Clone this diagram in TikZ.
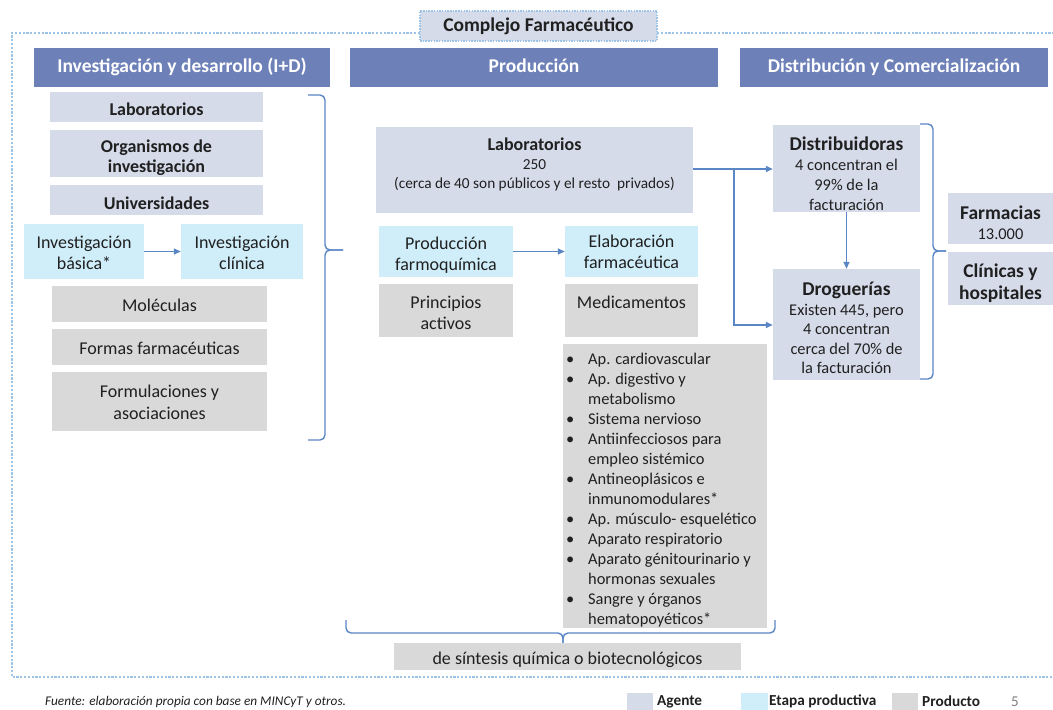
\documentclass[tikz,border=0pt]{standalone}
\usepackage{fontspec}
\setmainfont{Carlito}
\usetikzlibrary{arrows.meta}
\definecolor{agentc}{HTML}{D6DBEA}
\definecolor{headc}{HTML}{6D81B8}
\definecolor{stagec}{HTML}{D0EEFA}
\definecolor{prodc}{HTML}{D9D9D9}
\definecolor{linec}{HTML}{5A86C6}
\definecolor{dotc}{HTML}{9DC3E6}
\definecolor{txtc}{HTML}{202020}
\newcommand\fs[2]{\fontsize{#1}{#2}\selectfont}
\tikzset{
  box/.style={draw=none, inner sep=0pt},
  agent/.style={box, fill=agentc},
  stage/.style={box, fill=stagec},
  prod/.style={box, fill=prodc},
  txt/.style={inner sep=0pt, align=center, font=\fs{18}{21}, text=txtc},
  head/.style={fill=headc, text=white, font=\bfseries\fs{19.5}{22}, inner sep=0pt, text height=14pt, text depth=4pt},
  conn/.style={draw=linec, line width=1.4pt, -{Triangle[length=7pt,width=6pt]}},
  brc/.style={draw=linec, line width=1.4pt, rounded corners=5pt},
  dotline/.style={draw=dotc, line width=2.6pt, dash pattern=on 2.2pt off 1.6pt},
}
\begin{document}
\begin{tikzpicture}[x=1pt,y=-1pt]
\useasboundingbox (0,0) rectangle (1053,710);
% outer dotted frame
\draw[dotline] (420,33) -- (12,33) -- (12,677) -- (1053,677);
\draw[dotline] (657,33) -- (1053,33);
% title
\node[agent, draw=dotc, line width=1.3pt, dash pattern=on 1.5pt off 1.2pt, minimum width=237pt, minimum height=30pt, font=\bfseries\fs{19.5}{22}, text=txtc] (title) at (538.5,26) {Complejo Farmacéutico};
% headers
\node[head, minimum width=296pt, minimum height=39pt] (hid) at (182,67.5) {Investigación y desarrollo (I+D)};
\node[head, minimum width=368pt, minimum height=39pt] (hprod) at (534,67.5) {Producción};
\node[head, minimum width=308pt, minimum height=39pt] (hdist) at (894,67.5) {Distribución y Comercialización};
% I+D column
\node[agent, minimum width=213pt, minimum height=30pt] (lab1) at (156.5,107) {};
\node[txt, font=\bfseries\fs{18}{20}] (lab1t) at (156.5,109) {Laboratorios};
\node[agent, minimum width=213pt, minimum height=47pt] (org) at (156.5,153.5) {};
\node[txt, font=\bfseries\fs{18}{20}] (orgt) at (156.5,158) {Organismos de\\investigación};
\node[agent, minimum width=213pt, minimum height=30pt] (uni) at (156.5,200) {};
\node[txt, font=\bfseries\fs{18}{20}] (unit) at (156.5,203) {Universidades};
\node[stage, minimum width=120pt, minimum height=55pt] (ibas) at (84,251.5) {};
\node[txt] (ibast) at (84,252.5) {Investigación\\básica*};
\node[stage, minimum width=122pt, minimum height=55pt] (icli) at (242,251.5) {};
\node[txt] (iclit) at (242,252.5) {Investigación\\clínica};
\node[prod, minimum width=215pt, minimum height=36pt] (mol) at (159.5,304) {};
\node[txt] (molt) at (159.5,305) {Moléculas};
\node[prod, minimum width=215pt, minimum height=36pt] (formas) at (159.5,347) {};
\node[txt] (formast) at (159.5,348) {Formas farmacéuticas};
\node[prod, minimum width=215pt, minimum height=59pt] (formul) at (159.5,401.5) {};
\node[txt, font=\fs{18}{22}] (formult) at (159.5,402) {Formulaciones y\\asociaciones};
\draw[conn] (ibas.east) -- (icli.west);
\draw[brc] (308,95) -- (325,95) -- (325,250) -- (343,250);
\draw[brc] (308,440) -- (325,440) -- (325,250) -- (343,250);
% Produccion column
\node[agent, minimum width=317pt, minimum height=86pt] (labp) at (534.5,169.5) {};
\node[txt, font=\fs{15.3}{19}] (labpt) at (534.5,164) {{\bfseries\fs{18}{19}Laboratorios}\\250\\(cerca de 40 son públicos y el resto\ \ privados)};
\node[stage, minimum width=134pt, minimum height=51pt] (pfq) at (446,251.5) {};
\node[txt] (pfqt) at (446,255) {Producción\\farmoquímica};
\node[stage, minimum width=133pt, minimum height=51pt] (elab) at (631.5,251.5) {};
\node[txt] (elabt) at (631.5,252) {Elaboración\\farmacéutica};
\node[prod, minimum width=134pt, minimum height=53pt] (pa) at (446,310.5) {};
\node[txt] (pat) at (446,312.5) {Principios\\activos};
\node[prod, minimum width=133pt, minimum height=53pt] (med) at (631.5,310.5) {};
\node[txt] (medt) at (631.5,302) {Medicamentos};
\draw[conn] (pfq.east) -- (elab.west);
\node[prod, minimum width=204pt, minimum height=284pt] (list) at (665,486) {};
\node[txt, anchor=north west, align=left, font=\fs{16.4}{20}] (listt) at (566,350) {%
\begin{tabular}{@{}p{22pt}@{}l@{}}
\textbullet & Ap. cardiovascular\\
\textbullet & Ap. digestivo y\\
 & metabolismo\\
\textbullet & Sistema nervioso\\
\textbullet & Antiinfecciosos para\\
 & empleo sistémico\\
\textbullet & Antineoplásicos e\\
 & inmunomodulares*\\
\textbullet & Ap. músculo- esquelético\\
\textbullet & Aparato respiratorio\\
\textbullet & Aparato génitourinario y\\
 & hormonas sexuales\\
\textbullet & Sangre y órganos\\
 & hematopoyéticos*
\end{tabular}};
\draw[brc] (346,620) -- (346,633) -- (563,633) -- (563,643);
\draw[brc] (775,620) -- (775,633) -- (563,633) -- (563,643);
\node[prod, minimum width=347pt, minimum height=27pt] (sint) at (567.5,656.5) {};
\node[txt] (sintt) at (567.5,660) {de síntesis química o biotecnológicos};
% Distribucion column
\node[agent, minimum width=147pt, minimum height=87pt] (dist) at (846.5,168.5) {};
\node[txt, font=\fs{16.4}{20}] (distt) at (846.5,174) {{\bfseries\fs{19.5}{22}Distribuidoras}\\4 concentran el\\99\% de la\\facturación};
\node[agent, minimum width=147pt, minimum height=111pt] (drog) at (846.5,324.5) {};
\node[txt, font=\fs{16.4}{19.5}] (drogt) at (846.5,328) {{\bfseries\fs{19.5}{22}Droguerías}\\Existen 445, pero\\4 concentran\\cerca del 70\% de\\la facturación};
\node[agent, minimum width=105pt, minimum height=51pt] (farm) at (1000.5,218.5) {};
\node[txt, font=\fs{16.4}{20}] (farmt) at (1000.5,223) {{\bfseries\fs{19.5}{22}Farmacias}\\13.000};
\node[agent, minimum width=105pt, minimum height=53pt] (clin) at (1000.5,278) {};
\node[txt, font=\bfseries\fs{19.5}{22}] (clint) at (1000.5,283) {Clínicas y\\hospitales};
\coordinate (split) at (734,169);
\draw[conn] (labp.east |- split) -- (dist.west |- split);
\draw[conn] (split) |- (drog.west |- 0,325);
\draw[conn] (dist.south) -- (drog.north);
\draw[brc] (920,124) -- (933,124) -- (933,251) -- (946,251);
\draw[brc] (920,379) -- (933,379) -- (933,251) -- (946,251);
% footer
\node[anchor=base west, inner sep=0pt, font=\itshape\fs{13.3}{15}, text=txtc] (src) at (45,705) {Fuente: elaboración propia con base en MINCyT y otros.};
\node[fill=agentc, minimum width=26pt, minimum height=17pt, inner sep=0pt] (sw1) at (640,701.5) {};
\node[anchor=west, inner sep=0pt, font=\bfseries\fs{15.3}{17}, text=txtc] (lg1) at (657,701.5) {Agente};
\node[fill=stagec, minimum width=27pt, minimum height=17pt, inner sep=0pt] (sw2) at (754.5,701.5) {};
\node[anchor=west, inner sep=0pt, font=\bfseries\fs{15.3}{17}, text=txtc] (lg2) at (769,701.5) {Etapa productiva};
\node[fill=prodc, minimum width=26pt, minimum height=17pt, inner sep=0pt] (sw3) at (905,701.5) {};
\node[anchor=west, inner sep=0pt, font=\bfseries\fs{15.3}{17}, text=txtc] (lg3) at (922,701.5) {Producto};
\node[anchor=south west, inner sep=0pt, font=\fs{15}{16}, text=gray] (pg) at (1011,707) {5};
\end{tikzpicture}
\end{document}
